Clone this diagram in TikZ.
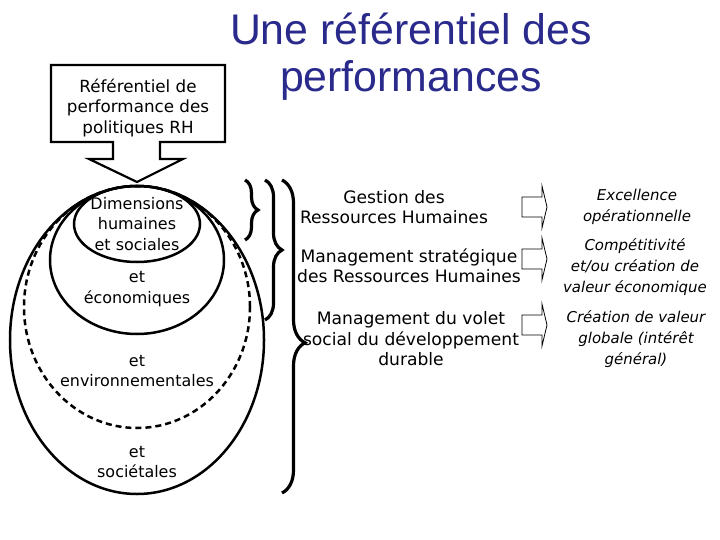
\documentclass[tikz,border=0pt]{standalone}
\usepackage{fontspec}
\setmainfont{DejaVu Sans}
\newfontfamily\titlefont{Liberation Sans}
\usetikzlibrary{shapes.geometric,decorations.pathreplacing}
\definecolor{titleblue}{RGB}{42,42,140}
\begin{document}
\begin{tikzpicture}[x=1bp,y=-1bp,
  txt/.style={align=center,inner sep=0pt,font=\fontsize{16}{21}\selectfont},
  btxt/.style={align=center,inner sep=0pt,font=\fontsize{16.8}{21}\selectfont},
  mtxt/.style={align=center,inner sep=0pt,font=\fontsize{17.2}{20.5}\selectfont},
  itxt/.style={align=center,inner sep=0pt,font=\fontsize{15}{21.5}\selectfont\itshape},
  ell/.style={ellipse,draw,line width=2.5bp,inner sep=0pt},
  ttl/.style={anchor=base,inner sep=0pt,text=titleblue,font=\titlefont\fontsize{43}{47}\selectfont},
  brc/.style={decorate,line width=3.2bp,decoration={brace,amplitude=#1}},
  barrow/.pic={\draw[line width=0.8bp] (0,-10) -- (20,-10) -- (20,-21) -- (25,0) -- (20,21) -- (20,10) -- (0,10) -- cycle;}
]
\useasboundingbox (0,0) rectangle (720,540);
\fill[white] (0,0) rectangle (720,540);

% title
\node[ttl] (title1) at (411,45) {Une référentiel des};
\node[ttl] (title2) at (411,92) {performances};

% callout box with down arrow
\draw[line width=2.2bp,line join=miter] (51,65) -- (225,65) -- (225,142) -- (160,142) -- (160,159)
  -- (183,159) -- (137,182) -- (89,159) -- (113,159) -- (113,142) -- (51,142) -- cycle;
\node[btxt] (callout) at (138,108) {Référentiel de\\performance des\\politiques RH};

% nested ellipses
\node[ell,minimum width=254bp,minimum height=308bp] (e4) at (137,340) {};
\node[ell,dashed,dash pattern=on 6bp off 4bp,minimum width=226bp,minimum height=242bp] (e3) at (137,307) {};
\node[ell,minimum width=174bp,minimum height=148bp] (e2) at (137,260) {};
\node[ell,minimum width=126bp,minimum height=76bp] (e1) at (137,224) {};

\node[txt] (t1) at (137,224) {Dimensions\\humaines\\et sociales};
\node[txt] (t2) at (137,289) {et\\économiques};
\node[txt] (t3) at (137,371) {et\\environnementales};
\node[txt] (t4) at (137,462) {et\\sociétales};

% braces
\draw[brc=13bp] (245,180) -- (245,240);
\draw[brc=17bp] (265,180) -- (265,320);
\draw[brc=23bp,decoration={aspect=0.52}] (282,180) -- (282,493);

% middle column
\node[mtxt] (m1) at (394,207) {Gestion des\\Ressources Humaines};
\node[mtxt] (m2) at (409,266) {Management stratégique\\des Ressources Humaines};
\node[mtxt] (m3) at (411,339) {Management du volet\\social du développement\\durable};

% block arrows
\pic at (522,207) {barrow};
\pic at (522,259) {barrow};
\pic at (522,325) {barrow};

% right column
\node[itxt] (r1) at (637,207) {Excellence\\opérationnelle};
\node[itxt] (r2) at (635,267) {Compétitivité\\et/ou création de\\valeur économique};
\node[itxt] (r3) at (636,339) {Création de valeur\\globale (intérêt\\général)};
\end{tikzpicture}
\end{document}
